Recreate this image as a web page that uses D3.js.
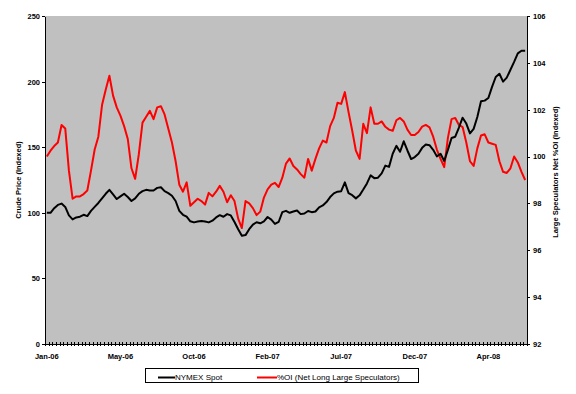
<!DOCTYPE html>
<html><head><meta charset="utf-8">
<script src="https://cdn.jsdelivr.net/npm/d3@7"></script>
<style>body{margin:0;background:#fff}svg{display:block}text{font-family:"Liberation Sans",Arial,sans-serif}</style>
</head><body><svg id="c" width="576" height="394"></svg>
<script>
// weekly observations, Jan-2006 .. Jul-2008
const xLabels = ["Jan-06","May-06","Oct-06","Feb-07","Jul-07","Dec-07","Apr-08"];
const labelEvery = 20;
const nymexSpot = [100,100,103.5,106,107,104.5,98,95,96.5,97,98.5,97.5,101.5,104.5,107.5,111,114.5,117.5,114,110.5,
112.5,114.5,112,109,111,114.5,116.5,117.5,117,117,119,119.5,116.5,115,113,109,101.5,98.5,97,93.5,
92.7,93.3,93.8,93.3,92.7,94,96.5,98.2,97,99,98,93,87.5,82.5,83,87.5,91,92.8,92,93.5,
96.8,94.8,91.5,93,100.5,101.5,100,101,101.8,99,99.5,101.4,100.5,101,104.2,105.6,108.2,112,114.8,116.1,
116.5,123.2,115,113.4,111,113.3,117.7,122.4,128.5,126.4,126.8,130,136,135,145,151,146.5,154.5,147.5,141,
142.5,145,149.5,152,151.5,148,143,145,139.5,148,157,158,165,172.5,168,160.5,164,173,185,185.5,
187.5,196,203.5,206,200,203,209,215,221.5,223.5,223.5];
const netLongOI = [100,100.25,100.45,100.6,101.35,101.2,99.4,98.2,98.3,98.3,98.4,98.55,99.4,100.3,100.85,102.2,102.85,103.45,102.6,102.1,
101.75,101.3,100.75,99.5,99.05,100.1,101.45,101.7,101.95,101.6,102.1,102.15,101.8,101.2,100.6,99.8,98.8,98.5,98.9,97.9,
98.05,98.2,98.1,97.95,98.45,98.3,98.5,98.75,98.5,98.05,98.35,98.1,97.35,96.95,98.1,98,97.8,97.5,97.65,98.25,
98.6,98.8,98.88,98.7,99.1,99.7,99.92,99.6,99.45,99.25,99.1,99.9,99.4,99.9,100.35,100.68,100.6,101.3,101.65,102.3,
102.25,102.75,101.9,101.1,100.25,99.9,101.4,101,102.1,101.4,101.4,101.5,101.27,101.15,101.1,101.55,101.65,101.5,101.15,100.92,
100.92,101.05,101.28,101.35,101.25,100.85,100.3,99.9,99.55,100.8,101.6,101.65,101.35,101.26,100.6,99.8,99.6,100.35,100.9,100.95,
100.6,100.55,100.5,99.8,99.35,99.3,99.5,100,99.75,99.35,99];
const leftTicks = [0,50,100,150,200,250];
const rightTicks = [92,94,96,98,100,102,104,106];
const seriesNames = ["NYMEX Spot","%OI (Net Long Large Speculators)"];
const seriesColors = ["#000000","#FF0000"];

const svg = d3.select("#c");
const L = 45, R = 527, T = 16, B = 344;
const n = nymexSpot.length;
const idx = d3.range(n);
const x = d3.scalePoint().domain(idx).range([L, R]).padding(0.5);
const xb = d3.scaleLinear().domain([0, n]).range([L, R]);
const yL = d3.scaleLinear().domain([0, 250]).range([B, T]);
const yR = d3.scaleLinear().domain([92, 106]).range([B, T]);

svg.append("rect").attr("x", L).attr("y", T).attr("width", R - L).attr("height", B - T).attr("fill", "#C0C0C0");

// left axis
const gl = svg.append("g").attr("transform", `translate(${L},0)`)
  .call(d3.axisLeft(yL).tickValues(leftTicks).tickSize(3).tickPadding(2).tickSizeOuter(0));
// right axis
const gr = svg.append("g").attr("transform", `translate(${R},0)`)
  .call(d3.axisRight(yR).tickValues(rightTicks).tickSize(3).tickPadding(3).tickSizeOuter(0));
[gl, gr].forEach(g => {
  g.selectAll("path,line").attr("stroke", "#000").attr("stroke-width", 1).attr("shape-rendering", "crispEdges");
  g.selectAll("text").attr("font-size", "7.5px").attr("font-weight", "bold").attr("fill", "#000");
});

// bottom axis with crossing ticks at category boundaries
const gb = svg.append("g").attr("transform", `translate(0,${B})`)
  .call(d3.axisBottom(xb).tickValues(d3.range(n + 1)).tickSize(3).tickFormat("").tickSizeOuter(0));
gb.selectAll("line").attr("y1", -2).attr("y2", 2);
gb.selectAll("path,line").attr("stroke", "#000").attr("stroke-width", 1).attr("shape-rendering", "crispEdges");
gb.selectAll(".xl").data(xLabels).enter().append("text")
  .attr("x", (d, i) => x(i * labelEvery)).attr("y", 15).attr("text-anchor", "middle")
  .attr("font-size", "7.5px").attr("font-weight", "bold").attr("fill", "#000").text(d => d);

// axis titles
svg.append("text").attr("transform", `translate(21,180) rotate(-90)`).attr("text-anchor", "middle")
  .attr("font-size", "7.5px").attr("font-weight", "bold").text("Crude Price (Indexed)");
svg.append("text").attr("transform", `translate(558,172) rotate(-90)`).attr("text-anchor", "middle")
  .attr("font-size", "7.5px").attr("font-weight", "bold").text("Large Speculators Net %OI (Indexed)");

// lines
const lineL = d3.line().x((d, i) => x(i)).y(d => yL(d));
const lineR = d3.line().x((d, i) => x(i)).y(d => yR(d));
svg.append("path").datum(netLongOI).attr("d", lineR).attr("fill", "none")
  .attr("stroke", seriesColors[1]).attr("stroke-width", 2).attr("stroke-linejoin", "round");
svg.append("path").datum(nymexSpot).attr("d", lineL).attr("fill", "none")
  .attr("stroke", seriesColors[0]).attr("stroke-width", 2).attr("stroke-linejoin", "round");

// legend
const lg = svg.append("g");
lg.append("rect").attr("x", 145.5).attr("y", 368.5).attr("width", 273).attr("height", 14)
  .attr("fill", "#fff").attr("stroke", "#000").attr("stroke-width", 1);
const legItems = [{sx: 158, ex: 175}, {sx: 257, ex: 277}];
legItems.forEach((p, i) => {
  lg.append("line").attr("x1", p.sx).attr("x2", p.ex).attr("y1", 377.5).attr("y2", 377.5)
    .attr("stroke", seriesColors[i]).attr("stroke-width", 2);
  lg.append("text").attr("x", p.ex).attr("y", 380).attr("font-size", "8px").attr("fill", "#000").text(seriesNames[i]);
});
</script></body></html>
